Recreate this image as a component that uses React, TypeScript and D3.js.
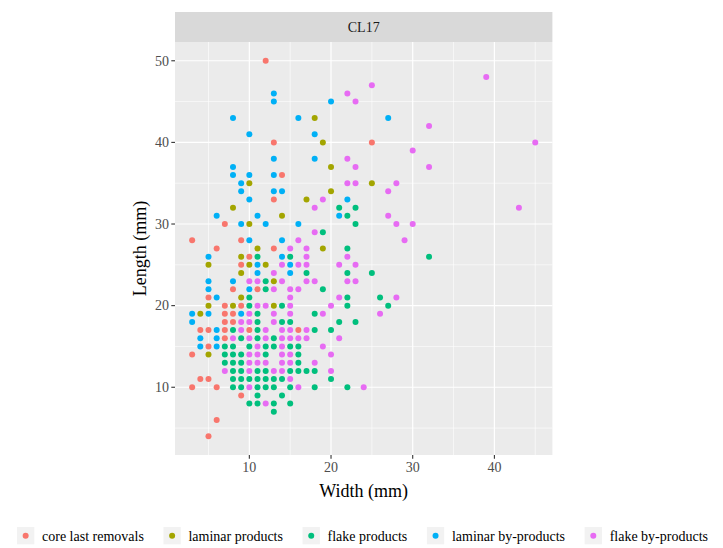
import React from 'react';
import * as d3 from 'd3';

// [width, length] in mm
const coreLastRemovals = [
  [12, 50], [13, 40], [14, 36], [25, 40], [13, 33], [7, 30], [3, 28], [9, 28], [6, 27], [13, 27],
  [10, 26], [9, 25], [8, 22], [11, 22], [5, 21], [7, 20], [9, 20], [7, 19], [8, 19], [7, 18],
  [8, 18], [4, 17], [5, 17], [7, 17], [10, 17], [16, 17], [7, 16], [5, 15], [3, 14], [4, 11],
  [5, 11], [3, 10], [6, 10], [9, 9], [6, 6], [5, 4],
];
const laminarProducts = [
  [18, 43], [19, 40], [20, 37], [10, 35], [25, 35], [20, 34], [17, 33], [8, 32], [14, 31], [10, 30],
  [11, 27], [19, 27], [9, 26], [5, 25], [10, 25], [12, 25], [9, 24], [13, 23], [9, 21], [5, 20],
  [8, 20], [13, 20], [4, 19], [5, 14],
];
const flakeProducts = [
  [21, 32], [23, 32], [22, 31], [23, 30], [19, 29], [22, 27], [11, 26], [15, 26], [32, 26], [17, 24],
  [22, 24], [25, 24], [12, 23], [12, 22], [19, 22], [22, 21], [26, 21], [10, 21], [10, 20], [14, 20],
  [22, 20], [27, 20], [11, 19], [18, 19], [11, 18], [14, 18], [15, 18], [21, 18], [23, 18], [8, 17],
  [11, 17], [18, 17], [20, 17], [9, 16], [11, 16], [13, 16], [7, 15], [8, 15], [10, 15], [12, 15],
  [13, 15], [15, 15], [16, 15], [7, 14], [8, 14], [9, 14], [12, 14], [16, 14], [7, 13], [8, 13],
  [9, 13], [16, 13], [8, 12], [9, 12], [11, 12], [12, 12], [15, 12], [16, 12], [17, 12], [18, 12],
  [8, 11], [9, 11], [10, 11], [11, 11], [12, 11], [13, 11], [14, 11], [20, 11], [8, 10], [9, 10],
  [11, 10], [12, 10], [13, 10], [15, 10], [18, 10], [22, 10], [11, 9], [14, 9], [10, 8], [11, 8],
  [13, 8], [15, 8], [13, 7],
];
const laminarByProducts = [
  [13, 46], [13, 45], [20, 45], [8, 43], [16, 43], [27, 43], [10, 41], [18, 41], [13, 38], [18, 38],
  [8, 37], [8, 36], [10, 36], [13, 36], [9, 35], [9, 34], [13, 34], [14, 34], [10, 33], [22, 33],
  [6, 31], [11, 31], [21, 31], [9, 30], [12, 30], [16, 30], [10, 28], [14, 28], [5, 26], [14, 26],
  [11, 25], [15, 25], [11, 24], [15, 24], [5, 23], [8, 23], [5, 22], [10, 22], [6, 21], [3, 19],
  [5, 19], [9, 19], [3, 18], [6, 17], [4, 16], [6, 16], [4, 15], [6, 15],
];
const flakeByProducts = [
  [39, 48], [25, 47], [22, 46], [23, 45], [32, 42], [45, 40], [30, 39], [22, 38], [23, 37], [32, 37],
  [22, 35], [23, 35], [28, 35], [27, 34], [19, 33], [18, 32], [43, 32], [27, 31], [28, 30], [30, 30],
  [18, 29], [16, 28], [29, 28], [15, 27], [17, 27], [17, 26], [22, 26], [14, 25], [16, 25], [17, 25],
  [21, 25], [23, 25], [13, 24], [10, 23], [11, 23], [14, 23], [17, 23], [18, 23], [22, 23], [23, 23],
  [13, 22], [15, 22], [16, 22], [15, 21], [21, 21], [28, 21], [11, 20], [12, 20], [15, 20], [20, 20],
  [10, 19], [13, 19], [15, 19], [19, 19], [26, 19], [9, 18], [10, 18], [13, 18], [9, 17], [12, 17],
  [14, 17], [15, 17], [17, 17], [8, 16], [10, 16], [12, 16], [14, 16], [15, 16], [16, 16], [17, 16],
  [21, 16], [11, 15], [14, 15], [19, 15], [10, 14], [11, 14], [14, 14], [15, 14], [20, 14], [10, 13],
  [11, 13], [12, 13], [14, 13], [15, 13], [18, 13], [7, 12], [10, 12], [13, 12], [14, 12], [20, 12],
  [15, 11], [10, 10], [16, 10], [24, 10], [12, 8],
];

const categories = ['core last removals', 'laminar products', 'flake products', 'laminar by-products', 'flake by-products'];
const seriesData = [coreLastRemovals, laminarProducts, flakeProducts, laminarByProducts, flakeByProducts];
const colors = ['#F8766D', '#A3A500', '#00BF7D', '#00B0F6', '#E76BF3'];
const xMajor = [10, 20, 30, 40];
const xMinor = [5, 15, 25, 35, 45];
const yMajor = [10, 20, 30, 40, 50];
const yMinor = [5, 15, 25, 35, 45];
const facet = 'CL17';

const font = '"Liberation Serif", "DejaVu Serif", serif';
const panel = { left: 175, right: 552.4, top: 42, bottom: 455 };

// legend layout: keys + labels, spread over the observed span and centred
function legendLayout(fontSize: number) {
  const ctx = document.createElement('canvas').getContext('2d');
  ctx.font = `${fontSize}px "Liberation Serif"`;
  const widths = categories.map((c) => ctx.measureText(c).width);
  const left = 17;
  const right = 708;
  const key = 25;
  const gap = (right - left - d3.sum(widths) - key * categories.length) / (categories.length - 1);
  let pos = left;
  return widths.map((w) => {
    const p = pos;
    pos += key + w + gap;
    return p;
  });
}

export default function App() {
  const x = d3.scaleLinear().domain([0.9, 47.1]).range([panel.left, panel.right]);
  const y = d3.scaleLinear().domain([1.7, 52.3]).range([panel.bottom, panel.top]);
  const pw = panel.right - panel.left;
  const ph = panel.bottom - panel.top;
  const cx = (panel.left + panel.right) / 2;
  const cy = (panel.top + panel.bottom) / 2;
  const legendX = legendLayout(14);

  return (
    <svg width={723} height={548} style={{ position: 'absolute', left: 0, top: 0, background: 'white' }}>
      {/* facet strip */}
      <rect x={panel.left} y={12} width={pw} height={30} fill="#D9D9D9" />
      <text x={cx} y={32} textAnchor="middle" fontFamily={font} fontSize={14} fill="#1A1A1A">{facet}</text>

      {/* panel + grid */}
      <rect x={panel.left} y={panel.top} width={pw} height={ph} fill="#EBEBEB" />
      {xMinor.map((v) => (
        <line key={'xm' + v} x1={x(v)} x2={x(v)} y1={panel.top} y2={panel.bottom} stroke="white" strokeWidth={0.6} />
      ))}
      {yMinor.map((v) => (
        <line key={'ym' + v} y1={y(v)} y2={y(v)} x1={panel.left} x2={panel.right} stroke="white" strokeWidth={0.6} />
      ))}
      {xMajor.map((v) => (
        <line key={'xM' + v} x1={x(v)} x2={x(v)} y1={panel.top} y2={panel.bottom} stroke="white" strokeWidth={1.2} />
      ))}
      {yMajor.map((v) => (
        <line key={'yM' + v} y1={y(v)} y2={y(v)} x1={panel.left} x2={panel.right} stroke="white" strokeWidth={1.2} />
      ))}

      {/* points */}
      {seriesData.map((pts, i) =>
        pts.map((d, j) => (
          <circle key={i + '-' + j} cx={x(d[0])} cy={y(d[1])} r={3} fill={colors[i]} />
        ))
      )}

      {/* x axis */}
      {xMajor.map((v) => (
        <g key={'xt' + v}>
          <line x1={x(v)} x2={x(v)} y1={panel.bottom} y2={panel.bottom + 3.7} stroke="#333333" strokeWidth={1.1} />
          <text x={x(v)} y={panel.bottom + 17} textAnchor="middle" fontFamily={font} fontSize={14} fill="#4D4D4D">{v}</text>
        </g>
      ))}
      <text x={cx} y={497} textAnchor="middle" fontFamily={font} fontSize={18} fill="black">Width (mm)</text>

      {/* y axis */}
      {yMajor.map((v) => (
        <g key={'yt' + v}>
          <line x1={panel.left - 3.7} x2={panel.left} y1={y(v)} y2={y(v)} stroke="#333333" strokeWidth={1.1} />
          <text x={panel.left - 6} y={y(v) + 4.8} textAnchor="end" fontFamily={font} fontSize={14} fill="#4D4D4D">{v}</text>
        </g>
      ))}
      <text transform={`translate(146, ${cy}) rotate(-90)`} textAnchor="middle" fontFamily={font} fontSize={18} fill="black">Length (mm)</text>

      {/* legend */}
      {categories.map((c, i) => (
        <g key={c} transform={`translate(${legendX[i]}, 527)`}>
          <rect width={17.3} height={17.3} fill="#F2F2F2" />
          <circle cx={8.65} cy={8.65} r={3} fill={colors[i]} />
          <text x={25} y={13.6} fontFamily={font} fontSize={14} fill="black">{c}</text>
        </g>
      ))}
    </svg>
  );
}
